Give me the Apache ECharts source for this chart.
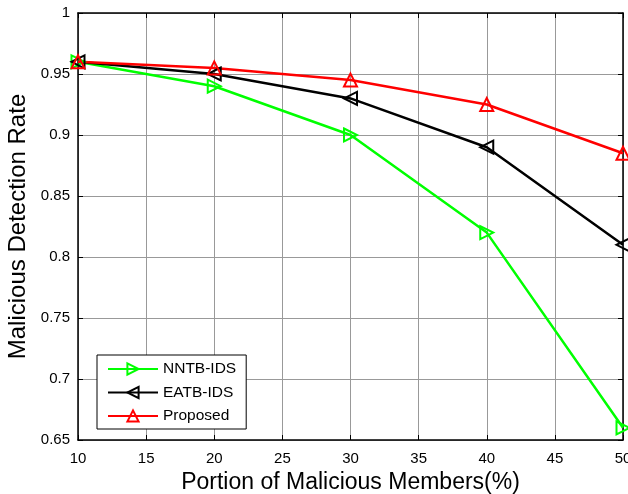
<!DOCTYPE html>
<html style="height: 100%; width: 100%">
  <head>
    <meta charset="utf-8" />
  </head>
  <body style="height: 100%; width: 100%; margin: 0">
    <div id="chart-panel" style="height: 494px; width: 628px"></div>
    <script src="https://fastly.jsdelivr.net/npm/echarts@6/dist/echarts.min.js"></script>
    <script type="text/javascript">
      var xValues = [10, 20, 30, 40, 50];
      var nntb = [0.96, 0.94, 0.9, 0.82, 0.66];
      var eatb = [0.96, 0.95, 0.93, 0.89, 0.81];
      var proposed = [0.96, 0.955, 0.945, 0.925, 0.885];
      var seriesNames = ["NNTB-IDS", "EATB-IDS", "Proposed"];

      var font = "Arial, 'Liberation Sans', sans-serif";
      var rightTri = "path://M0,0 L10,5 L0,10 Z";
      var leftTri = "path://M10,0 L0,5 L10,10 Z";
      var upTri = "path://M5,0 L10,9 L0,9 Z";

      function pairs(ys) {
        return ys.map(function (y, i) {
          return [xValues[i], y];
        });
      }

      function makeSeries(name, ys, color, symbol) {
        return {
          name: name,
          type: "line",
          data: pairs(ys),
          symbol: symbol,
          symbolSize: 13,
          lineStyle: { color: color, width: 2.5 },
          itemStyle: { color: "rgba(255,255,255,0)", borderColor: color, borderWidth: 2 },
          emphasis: { disabled: true },
          z: 3,
        };
      }

      var myChart = echarts.init(document.getElementById("chart-panel"));
      var option = {
        animation: false,
        backgroundColor: "#fff",
        grid: { left: 78, right: 5, top: 13, bottom: 54, outerBoundsMode: "none", containLabel: false },
        legend: {
          orient: "vertical",
          left: 97,
          top: 355,
          data: seriesNames,
          itemWidth: 50,
          itemHeight: 14,
          itemGap: 7.5,
          padding: [6, 10, 5, 10],
          backgroundColor: "#fff",
          borderColor: "#000",
          borderWidth: 1,
          borderRadius: 0,
          textStyle: { fontFamily: font, fontSize: 15.5, color: "#000" },
        },
        xAxis: [
          {
            type: "value",
            min: 10,
            max: 50,
            interval: 5,
            name: "Portion of Malicious Members(%)",
            nameLocation: "middle",
            nameGap: 29,
            nameTextStyle: { fontFamily: font, fontSize: 23, color: "#000" },
            axisLine: { lineStyle: { color: "#000", width: 1.5 } },
            axisTick: { inside: true, length: 5, lineStyle: { color: "#000" } },
            axisLabel: { fontFamily: font, fontSize: 15, color: "#000", margin: 11 },
            splitLine: { show: true, lineStyle: { color: "#999", width: 1 } },
          },
          {
            type: "value",
            position: "top",
            min: 10,
            max: 50,
            interval: 5,
            axisLine: { lineStyle: { color: "#000", width: 1.5 } },
            axisTick: { inside: true, length: 5, lineStyle: { color: "#000" } },
            axisLabel: { show: false },
            splitLine: { show: false },
          },
        ],
        yAxis: [
          {
            type: "value",
            min: 0.65,
            max: 1,
            interval: 0.05,
            name: "Malicious Detection Rate",
            nameLocation: "middle",
            nameGap: 48,
            nameTextStyle: { fontFamily: font, fontSize: 24, color: "#000" },
            axisLine: { show: true, lineStyle: { color: "#000", width: 1.5 } },
            axisTick: { show: true, inside: true, length: 5, lineStyle: { color: "#000" } },
            axisLabel: {
              fontFamily: font,
              fontSize: 15,
              color: "#000",
              margin: 8,
              formatter: function (v) {
                return String(parseFloat(v.toFixed(2)));
              },
            },
            splitLine: { show: true, lineStyle: { color: "#999", width: 1 } },
          },
          {
            type: "value",
            position: "right",
            min: 0.65,
            max: 1,
            interval: 0.05,
            axisLine: { show: true, lineStyle: { color: "#000", width: 1.5 } },
            axisTick: { show: true, inside: true, length: 5, lineStyle: { color: "#000" } },
            axisLabel: { show: false },
            splitLine: { show: false },
          },
        ],
        series: [
          makeSeries(seriesNames[0], nntb, "#00ff00", rightTri),
          makeSeries(seriesNames[1], eatb, "#000000", leftTri),
          makeSeries(seriesNames[2], proposed, "#ff0000", upTri),
        ],
      };
      myChart.setOption(option);
    </script>
  </body>
</html>
